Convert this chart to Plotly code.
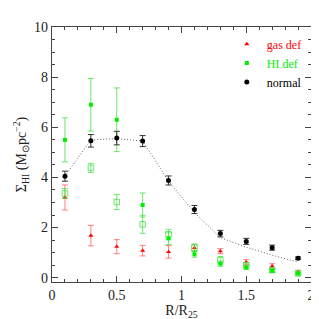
import plotly.graph_objects as go

radius = [0.1, 0.3, 0.5, 0.7, 0.9, 1.1, 1.3, 1.5, 1.7, 1.9]

normal = [4.05, 5.46, 5.57, 5.45, 3.88, 2.72, 1.76, 1.45, 1.20, 0.78]
normal_err = [0.20, 0.25, 0.27, 0.22, 0.18, 0.16, 0.13, 0.12, 0.10, 0.05]
normal_model = [4.05, 5.50, 5.55, 5.45, 3.85, 2.60, 1.60, 1.22, 0.90, 0.62]

gas_def = [3.20, 1.68, 1.24, 1.08, 1.03, 1.19, 1.06, 0.62, 0.46, 0.22]
gas_def_err = [0.50, 0.41, 0.28, 0.21, 0.25, 0.12, 0.10, 0.10, 0.10, 0.08]

hi_def = [5.50, 6.90, 6.30, 2.90, 1.57, 0.94, 0.56, 0.41, 0.28, 0.17]
hi_def_err = [0.88, 1.05, 1.27, 0.48, 0.25, 0.12, 0.10, 0.08, 0.06, 0.05]

hi_def_open = [3.36, 4.38, 3.02, 2.13, 1.73, 1.20, 0.70, 0.50, 0.30, 0.17]
hi_def_open_err = [0.20, 0.18, 0.30, 0.36, 0.20, 0.15, 0.15, 0.10, 0.08, 0.05]

FONT = "Liberation Serif"
RED = "#ff0000"
GREEN = "#00ee00"

fig = go.Figure()

fig.add_trace(go.Scatter(
    x=radius, y=normal_model, mode="lines",
    line=dict(color="#666666", width=1, dash="1px,2px"),
    showlegend=False, hoverinfo="skip"))

fig.add_trace(go.Scatter(
    x=radius, y=gas_def, mode="markers", name='<span style="color:#ff0000">gas def</span>',
    marker=dict(symbol="triangle-up", size=4.5, color=RED),
    error_y=dict(type="data", array=gas_def_err, color="rgba(255,90,90,0.75)", thickness=1, width=3)))

fig.add_trace(go.Scatter(
    x=radius, y=hi_def_open, mode="markers", showlegend=False,
    marker=dict(symbol="square-open", size=5.5, color="rgba(70,225,70,0.8)", line=dict(width=1)),
    error_y=dict(type="data", array=hi_def_open_err, color="rgba(70,225,70,0.75)", thickness=1, width=3)))

fig.add_trace(go.Scatter(
    x=radius, y=hi_def, mode="markers", name='<span style="color:#00ee00">HI def</span>',
    marker=dict(symbol="square", size=4, color=GREEN),
    error_y=dict(type="data", array=hi_def_err, color="rgba(70,225,70,0.8)", thickness=1, width=3)))

fig.add_trace(go.Scatter(
    x=radius, y=normal, mode="markers", name="normal",
    marker=dict(symbol="circle", size=5, color="black"),
    error_y=dict(type="data", array=normal_err, color="#333333", thickness=1, width=3)))

axis_common = dict(
    showline=True, linecolor="#444444", linewidth=1.3, mirror="allticks",
    ticks="inside", tickcolor="#444444", ticklen=6, tickwidth=1,
    showgrid=False, zeroline=False,
    tickfont=dict(family=FONT, size=14, color="#222222"),
)

fig.update_xaxes(
    range=[0, 2],
    tickvals=[0, 0.5, 1, 1.5, 2], ticktext=["0", "0.5", "1", "1.5", "2"],
    minor=dict(ticks="inside", ticklen=3, tickcolor="#444444", dtick=0.1, tick0=0, showgrid=False),
    title=dict(text="R/R<sub>25</sub>", font=dict(family=FONT, size=14, color="#222222"), standoff=2),
    **axis_common)

fig.update_yaxes(
    range=[-0.17, 10], tick0=0, dtick=2,
    minor=dict(ticks="inside", ticklen=3, tickcolor="#444444", dtick=0.5, tick0=0, showgrid=False),
    title=dict(text="Σ<sub>HI</sub> (M<sub>⊙</sub>pc<sup>−2</sup>)", font=dict(family=FONT, size=14, color="#222222"), standoff=4),
    **axis_common)

fig.update_layout(
    width=319, height=319,
    margin=dict(l=35, r=16, t=17, b=34),
    paper_bgcolor="white", plot_bgcolor="white",
    font=dict(family=FONT, size=12, color="black"),
    legend=dict(x=0.675, y=0.99, xanchor="left", yanchor="top",
                bgcolor="rgba(0,0,0,0)", font=dict(family=FONT, size=12),
                itemwidth=30, tracegroupgap=0, itemsizing="trace"),
)

fig.write_html("out.html")
